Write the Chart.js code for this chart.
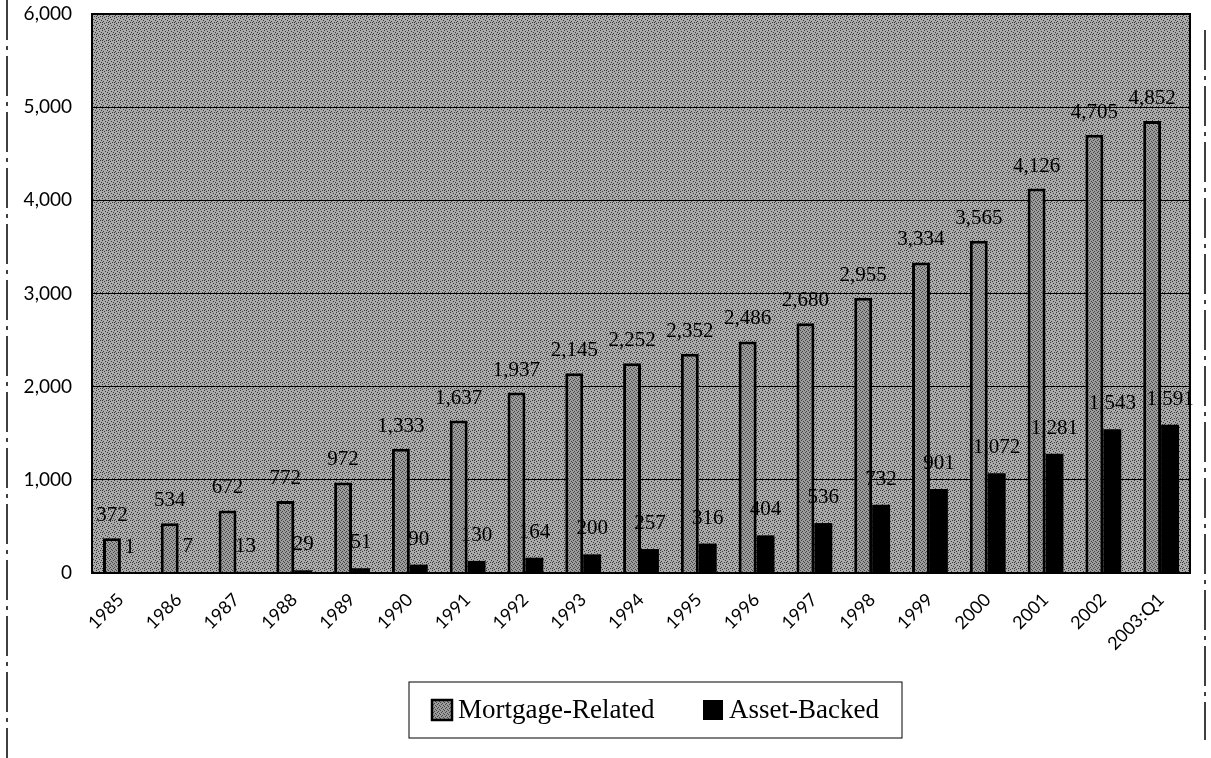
<!DOCTYPE html>
<html>
<head>
<meta charset="utf-8">
<script src="https://cdn.jsdelivr.net/npm/chart.js@4"></script>
<style>
  html, body { margin: 0; padding: 0; background: #fff; }
  #wrap { position: relative; width: 1211px; height: 758px; }
</style>
</head>
<body>
<div id="wrap"><canvas id="chart" width="1211" height="758"></canvas></div>
<script>
const years = ["1985", "1986", "1987", "1988", "1989", "1990", "1991", "1992", "1993", "1994",
    "1995", "1996", "1997", "1998", "1999", "2000", "2001", "2002", "2003:Q1"];
const mortgageRelated = [372, 534, 672, 772, 972, 1333, 1637, 1937, 2145, 2252,
    2352, 2486, 2680, 2955, 3334, 3565, 4126, 4705, 4852];
const assetBacked = [1, 7, 13, 29, 51, 90, 130, 164, 200, 257,
    316, 404, 536, 732, 901, 1072, 1281, 1543, 1591];
const yTicks = [0, 1000, 2000, 3000, 4000, 5000, 6000];

// small dotted fills, like the scanned halftone
function makePattern(size, base, dot, spots) {
    const c = document.createElement("canvas");
    c.width = size; c.height = size;
    const g = c.getContext("2d");
    g.fillStyle = base;
    g.fillRect(0, 0, size, size);
    g.fillStyle = dot;
    spots.forEach(p => g.fillRect(p[0], p[1], 1, 1));
    return g.createPattern(c, "repeat");
}
const bgPattern = makePattern(6, "#ababab", "#383838",
    [[0, 0], [3, 1], [1, 3], [4, 4], [2, 5], [5, 2], [0, 4]]);
const barPattern = makePattern(4, "#9c9c9c", "#444444", [[1, 0], [3, 1], [0, 2], [2, 3]]);

const numFmt = v => v.toLocaleString("en-US");

const plotBackground = {
    id: "plotBackground",
    beforeDraw(chart) {
        const { ctx, chartArea: a } = chart;
        ctx.save();
        ctx.fillStyle = bgPattern;
        ctx.fillRect(a.left, a.top, a.right - a.left, a.bottom - a.top);
        ctx.restore();
    },
    afterDraw(chart) {
        const { ctx, chartArea: a } = chart;
        ctx.save();
        ctx.strokeStyle = "#000";
        ctx.lineWidth = 2;
        ctx.strokeRect(a.left, a.top, a.right - a.left, a.bottom - a.top);
        // scan edge lines
        ctx.lineWidth = 1.5;
        ctx.setLineDash([40, 6, 4, 6]);
        ctx.beginPath();
        ctx.moveTo(7, 0); ctx.lineTo(7, 758);
        ctx.moveTo(1205, 30); ctx.lineTo(1205, 740);
        ctx.stroke();
        ctx.restore();
    }
};

const valueLabels = {
    id: "valueLabels",
    afterDatasetsDraw(chart) {
        const { ctx } = chart;
        ctx.save();
        ctx.font = "21px 'Liberation Serif'";
        ctx.fillStyle = "#000";
        ctx.textAlign = "center";
        ctx.textBaseline = "bottom";
        chart.data.datasets.forEach((ds, i) => {
            const meta = chart.getDatasetMeta(i);
            const off = i === 0 ? 12 : 15;
            meta.data.forEach((bar, j) => {
                ctx.fillText(numFmt(ds.data[j]), bar.x, bar.y - off);
            });
        });
        ctx.restore();
    }
};

const boxLegend = {
    id: "boxLegend",
    afterDraw(chart) {
        const { ctx } = chart;
        const left = 409, top = 682, right = 902, bottom = 738;
        ctx.save();
        ctx.strokeStyle = "#000";
        ctx.lineWidth = 1;
        ctx.strokeRect(left, top, right - left, bottom - top);
        ctx.font = "27px 'Liberation Serif'";
        ctx.textBaseline = "middle";
        const cy = (top + bottom) / 2;
        const items = [
            { x: 432, ds: chart.data.datasets[0] },
            { x: 703, ds: chart.data.datasets[1] }
        ];
        items.forEach((it, k) => {
            if (k === 0) {
                ctx.fillStyle = barPattern;
                ctx.fillRect(it.x, cy - 10, 20, 20);
                ctx.lineWidth = 2.5;
                ctx.strokeRect(it.x, cy - 10, 20, 20);
            } else {
                ctx.fillStyle = "#000";
                ctx.fillRect(it.x, cy - 10, 20, 20);
            }
            ctx.fillStyle = "#000";
            ctx.fillText(it.ds.label, it.x + 26, cy + 1);
        });
        ctx.restore();
    }
};

new Chart(document.getElementById("chart"), {
    type: "bar",
    data: {
        labels: years,
        datasets: [
            {
                label: "Mortgage-Related",
                data: mortgageRelated,
                backgroundColor: barPattern,
                borderColor: "#000",
                borderWidth: 3,
                borderSkipped: "bottom",
                barPercentage: 1.0,
                categoryPercentage: 0.62
            },
            {
                label: "Asset-Backed",
                data: assetBacked,
                backgroundColor: "#000",
                borderWidth: 0,
                barPercentage: 1.0,
                categoryPercentage: 0.62
            }
        ]
    },
    options: {
        responsive: false,
        animation: false,
        layout: { padding: { left: 0, right: 21, top: 14, bottom: 81 } },
        plugins: {
            legend: { display: false },
            tooltip: { enabled: false }
        },
        scales: {
            x: {
                grid: { display: false },
                border: { display: false },
                ticks: {
                    color: "#000",
                    font: { family: "Lato", size: 18 },
                    maxRotation: 45,
                    minRotation: 45,
                    padding: 8
                },
                afterFit(axis) {
                    axis.height = 104;
                    axis.paddingLeft = 0;
                    axis.paddingRight = 0;
                }
            },
            y: {
                min: 0,
                max: 6000,
                afterBuildTicks(axis) { axis.ticks = yTicks.map(v => ({ value: v })); },
                grid: { color: "#000", lineWidth: 1, drawTicks: false },
                border: { display: false },
                ticks: {
                    color: "#000",
                    font: { family: "Lato", size: 19 },
                    padding: 20,
                    callback: v => numFmt(v)
                },
                afterFit(axis) {
                    axis.width = 92;
                    axis.paddingTop = 0;
                    axis.paddingBottom = 0;
                }
            }
        }
    },
    plugins: [plotBackground, valueLabels, boxLegend]
});
</script>
</body>
</html>
